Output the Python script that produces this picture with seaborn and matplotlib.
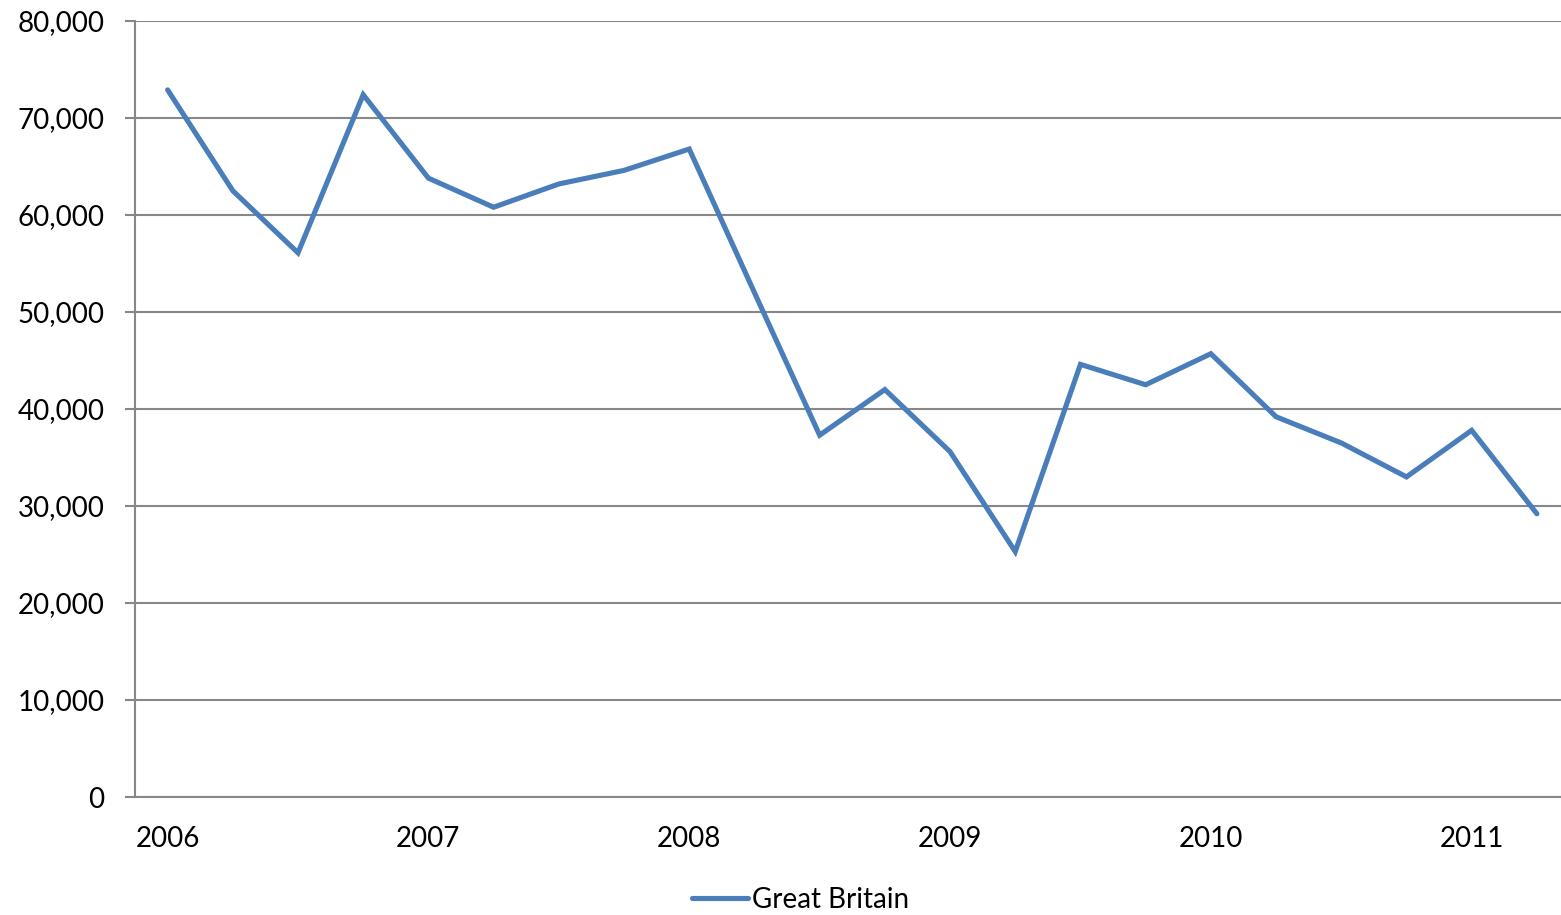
import numpy as np
import pandas as pd
import matplotlib
matplotlib.use("Agg")
import matplotlib.pyplot as plt
import seaborn as sns
from matplotlib.ticker import FuncFormatter, FixedLocator

# Quarterly values, 2006 Q1 - 2011 Q2
quarters = ["2006 Q1", "2006 Q2", "2006 Q3", "2006 Q4",
            "2007 Q1", "2007 Q2", "2007 Q3", "2007 Q4",
            "2008 Q1", "2008 Q2", "2008 Q3", "2008 Q4",
            "2009 Q1", "2009 Q2", "2009 Q3", "2009 Q4",
            "2010 Q1", "2010 Q2", "2010 Q3", "2010 Q4",
            "2011 Q1", "2011 Q2"]
values = [72900, 62500, 56100, 72400,
          63800, 60800, 63200, 64600,
          66800, 52000, 37300, 42000,
          35600, 25300, 44600, 42500,
          45700, 39200, 36500, 33000,
          37800, 29200]
year_labels = ["2006", "2007", "2008", "2009", "2010", "2011"]

df = pd.DataFrame({"pos": np.arange(len(quarters)), "quarter": quarters, "value": values})

sns.set_style("white")
plt.rcParams["font.family"] = ["Lato", "DejaVu Sans"]
plt.rcParams["text.color"] = "black"
plt.rcParams["xtick.labelcolor"] = "black"
plt.rcParams["ytick.labelcolor"] = "black"

fig = plt.figure(figsize=(15.61, 9.15), dpi=100)
ax = fig.add_axes([135 / 1561, 1 - 797 / 915, 1 - 135 / 1561, (797 - 21) / 915])

sns.lineplot(data=df, x="pos", y="value", ax=ax, color="#4A7EBB", linewidth=3.7,
             label="Great Britain", solid_capstyle="round", solid_joinstyle="miter")

grid_col = "#878787"
ax.set_ylim(0, 80000)
ax.set_xlim(-0.5, 21.37)
ax.set_yticks(np.arange(0, 80001, 10000))
ax.yaxis.set_major_formatter(FuncFormatter(lambda v, p: f"{int(v):,}"))
ax.yaxis.grid(True, color=grid_col, linewidth=1.5)
ax.xaxis.grid(False)
ax.set_axisbelow(True)

# category boundary ticks + year labels
ax.set_xticks(np.arange(0, len(quarters), 4))
ax.set_xticklabels(year_labels)
ax.xaxis.set_minor_locator(FixedLocator(np.arange(-0.5, len(quarters) - 0.5, 1)))
ax.tick_params(axis="x", which="major", length=0, pad=21, labelsize=20)
ax.tick_params(axis="x", which="minor", length=6, width=1.5, color=grid_col, direction="out")
ax.tick_params(axis="y", which="major", length=7, width=1.5, color=grid_col, pad=15,
               labelsize=20, left=True)

ax.set_xlabel("")
ax.set_ylabel("")
for s in ["top", "right"]:
    ax.spines[s].set_visible(False)
for s in ["left", "bottom"]:
    ax.spines[s].set_color(grid_col)
    ax.spines[s].set_linewidth(1.5)

ax.legend(loc="center", bbox_to_anchor=(0.513, 15 / 915), bbox_transform=fig.transFigure,
          frameon=False, fontsize=20, handlelength=2.0, handletextpad=0.15)

fig.savefig("out.png", dpi=100)
